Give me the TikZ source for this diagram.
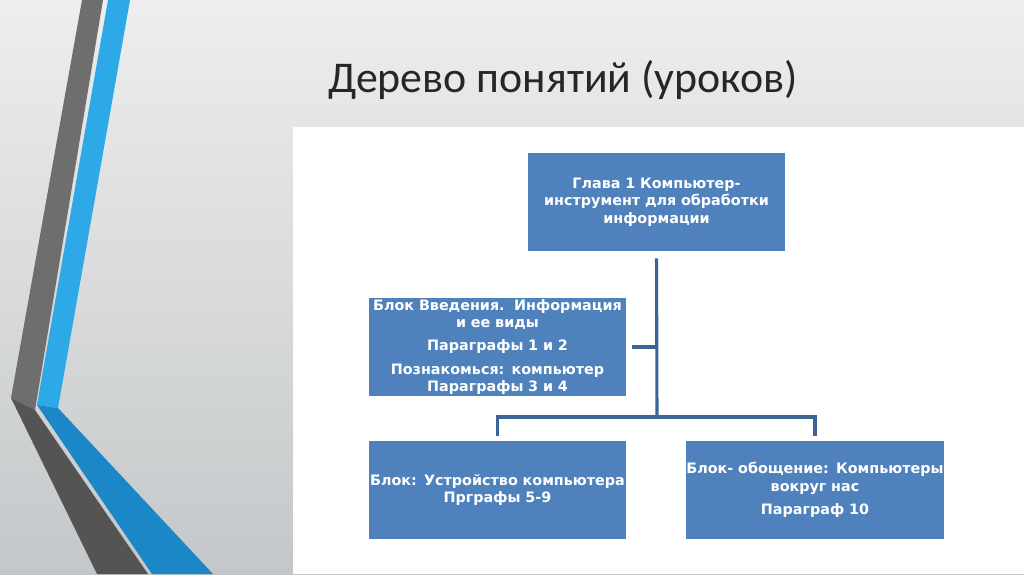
\documentclass[tikz,border=0pt]{standalone}
\usepackage{fontspec}
\setmainfont{Carlito}
\newfontfamily\boxfont{DejaVu Sans}
\usetikzlibrary{positioning}

\definecolor{boxblue}{HTML}{4F81BD}
\definecolor{linkblue}{HTML}{3A6594}
\definecolor{bgtop}{HTML}{EDEEEE}
\definecolor{bgbottom}{HTML}{C4C7C9}
\definecolor{stripegray}{HTML}{6E6E6E}
\definecolor{stripedark}{HTML}{545454}
\definecolor{stripeblue}{HTML}{2EA9E8}
\definecolor{stripedeep}{HTML}{1B87C7}

\begin{document}
\begin{tikzpicture}[
    x=0.025cm, y=-0.025cm,
    block/.style={rectangle, fill=boxblue, text=white, inner sep=0pt,
        minimum width=6.43cm, minimum height=2.45cm, text width=6.43cm,
        align=center, font=\boxfont\bfseries\fontsize{10.2}{12.4}\selectfont},
    link/.style={draw=linkblue, line width=2.2pt}
]
\useasboundingbox (0,0) rectangle (1024,574);

% Background and side stripes
\shade[top color=bgtop, bottom color=bgbottom] (0,0) rectangle (1024,574);
\fill[stripegray] (82,0) -- (103,0) -- (35,410) -- (11,398) -- cycle;
\fill[stripedark] (11,398) -- (35,410) -- (148,574) -- (97,574) -- cycle;
\fill[stripeblue] (108,0) -- (130,0) -- (58,408) -- (37,405) -- cycle;
\fill[stripedeep] (37,405) -- (58,408) -- (213,574) -- (152,574) -- cycle;

% Title
\node[font=\fontsize{31.2}{37}\selectfont, text=black!85] (title) at (563,80) {Дерево понятий (уроков)};

% White panel
\fill[white] (293,127) rectangle (1024,574);

% Tree
\node[block] (chapter) at (656.5,202) {Глава 1 Компьютер-\\инструмент для обработки\\информации};
\node[block] (intro) at (497.5,347) {Блок Введения.\ \ Информация\\и ее виды\\[4pt]Параграфы 1 и 2\\[4pt]Познакомься: компьютер\\Параграфы 3 и 4};
\node[block] (device) at (497.5,490) {Блок: Устройство компьютера\\Прграфы 5-9};
\node[block] (summary) at (815,490) {\makebox[\linewidth][c]{Блок- обощение: Компьютеры}\\вокруг нас\\[4pt]Параграф 10};

\coordinate (fork) at (657,417);
\draw[link, shorten <=5pt] (chapter.south) -- (fork);
\draw[link, shorten <=4pt] (intro.east) -- (intro.east -| fork);
\draw[link, shorten <=3pt, shorten >=3pt] (device.north) |- (fork) -| (summary.north);

\end{tikzpicture}
\end{document}
